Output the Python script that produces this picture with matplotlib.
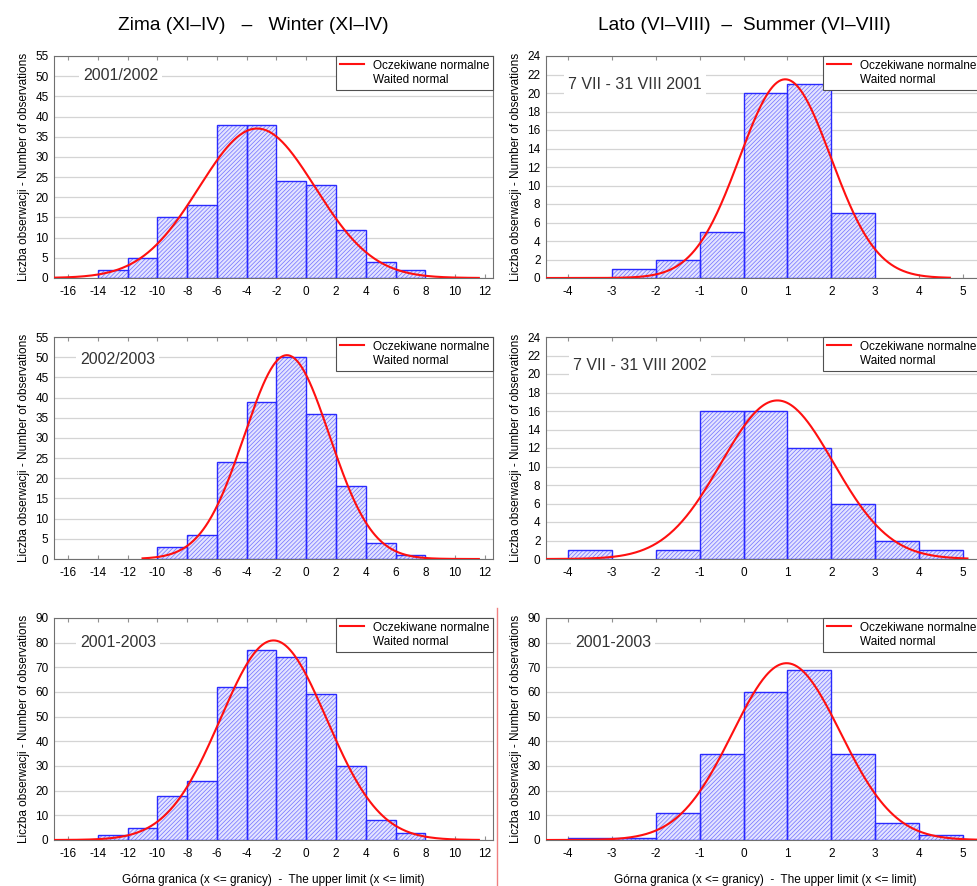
import numpy as np
import matplotlib
matplotlib.use("Agg")
import matplotlib.pyplot as plt
from matplotlib.lines import Line2D
from matplotlib import font_manager

# fonts
names = {f.name for f in font_manager.fontManager.ttflist}
narrow = 'Liberation Sans Narrow' if 'Liberation Sans Narrow' in names else 'Liberation Sans'
plt.rcParams['font.family'] = ['Liberation Sans', 'DejaVu Sans']
plt.rcParams['hatch.linewidth'] = 0.55
plt.rcParams['axes.unicode_minus'] = False

# histogram data - winter (bin width 2) and summer (bin width 1)
winter_left = [-14, -12, -10, -8, -6, -4, -2, 0, 2, 4, 6]
w_0102 = [2, 5, 15, 18, 38, 38, 24, 23, 12, 4, 2]
w_0203 = [0, 0, 3, 6, 24, 39, 50, 36, 18, 4, 1]
w_0103 = [2, 5, 18, 24, 62, 77, 74, 59, 30, 8, 3]

summer_left = [-4, -3, -2, -1, 0, 1, 2, 3, 4]
s_01 = [0, 1, 2, 5, 20, 21, 7, 0, 0]
s_02 = [1, 0, 1, 16, 16, 12, 6, 2, 1]
s_0103 = [1, 1, 11, 35, 60, 69, 35, 7, 2]

# fitted normal (mean, sigma)
w_fit = [(-3.3, 3.9), (-1.3, 2.86), (-2.2, 3.57)]
s_fit = [(0.95, 1.04), (0.77, 1.28), (0.98, 1.23)]
w_curve_range = [(-17, 11.6), (-11, 11.6), (-17, 11.6)]
s_curve_range = [(-4.5, 4.7), (-4.5, 5.1), (-4.5, 5.5)]

w_labels = ['2001/2002', '2002/2003', '2001-2003']
s_labels = ['7 VII - 31 VIII 2001', '7 VII - 31 VIII 2002', '2001-2003']

W, H = 978, 886
fig = plt.figure(figsize=(W / 100, H / 100), dpi=100)

FACE = '#e4e4ff'
HATCH = '#7878ff'
EDGE = '#2a2aff'


def panel(rect_px, left, counts, bw, fit, crange, label, xlim, xticks, ymax, ystep,
          lab_pos, leg_right, xlabel=False):
    l, t, r, b = rect_px
    ax = fig.add_axes([l / W, 1 - b / H, (r - l) / W, (b - t) / H])
    left = np.array(left, float)
    counts = np.array(counts, float)
    m = counts > 0
    ax.bar(left[m], counts[m], width=bw, align='edge', color=FACE,
           edgecolor=HATCH, hatch='////////', linewidth=0, zorder=2)
    ax.bar(left[m], counts[m], width=bw, align='edge', fill=False,
           edgecolor=EDGE, linewidth=1.0, zorder=3)

    mu, sd = fit
    n = counts.sum()
    xs = np.linspace(crange[0], crange[1], 400)
    ys = n * bw / (sd * np.sqrt(2 * np.pi)) * np.exp(-(xs - mu) ** 2 / (2 * sd ** 2))
    ln, = ax.plot(xs, ys, color='#ff1010', lw=1.5, zorder=4)

    ax.set_xlim(*xlim)
    ax.set_ylim(0, ymax)
    ax.set_xticks(xticks)
    ax.set_yticks(np.arange(0, ymax + 1, ystep))
    ax.grid(axis='y', color='#d4d4d4', lw=0.9)
    ax.set_axisbelow(True)
    for s in ax.spines.values():
        s.set_color('#707070')
        s.set_linewidth(0.8)
    ax.tick_params(axis='x', direction='in', length=3, color='#909090', top=True,
                   pad=6, labelsize=8.5)
    ax.tick_params(axis='y', length=0, pad=4, labelsize=8.5)
    for tl in ax.get_xticklabels() + ax.get_yticklabels():
        tl.set_family(narrow)
    ax.set_ylabel('Liczba obserwacji - Number of observations', family=narrow,
                  fontsize=8.5, labelpad=4)
    if xlabel:
        ax.set_xlabel('Górna granica (x <= granicy)  -  The upper limit (x <= limit)',
                      family=narrow, fontsize=8.5, labelpad=10)

    ax.text(lab_pos[0], lab_pos[1], label, transform=ax.transAxes, fontsize=11.5,
            color='#333333', va='center', ha='left', zorder=5,
            bbox=dict(facecolor='white', edgecolor='none', pad=3))

    blank = Line2D([], [], color='none')
    leg = ax.legend([ln, blank], ['Oczekiwane normalne', 'Waited normal'],
                    loc='upper right', bbox_to_anchor=(leg_right, 1),
                    borderaxespad=0, fontsize=8.5,
                    fancybox=False, framealpha=1, edgecolor='#505050',
                    handlelength=2.0, labelspacing=0.25, borderpad=0.3,
                    handletextpad=0.8)
    leg.get_frame().set_linewidth(0.8)
    leg.set_zorder(6)
    return ax


win_ticks = np.arange(-16, 13, 2)
sum_ticks = np.arange(-4, 6, 1)

rows = [(56, 278), (337, 559), (618, 840)]
w_data = [w_0102, w_0203, w_0103]
s_data = [s_01, s_02, s_0103]
w_ymax = [(55, 5), (55, 5), (90, 10)]
s_ymax = [(24, 2), (24, 2), (90, 10)]
w_lab = [(0.066, 0.91), (0.059, 0.90), (0.059, 0.89)]
s_lab = [(0.05, 0.873), (0.0615, 0.873), (0.066, 0.89)]

for i, (t, b) in enumerate(rows):
    panel((54, t, 493, b), winter_left, w_data[i], 2, w_fit[i], w_curve_range[i],
          w_labels[i], (-16.95, 12.55), win_ticks, w_ymax[i][0], w_ymax[i][1],
          w_lab[i], 1.0, xlabel=(i == 2))
    panel((546, t, 985, b), summer_left, s_data[i], 1, s_fit[i], s_curve_range[i],
          s_labels[i], (-4.5, 5.5), sum_ticks, s_ymax[i][0], s_ymax[i][1],
          s_lab[i], (980 - 546) / 439, xlabel=(i == 2))

# column titles
fig.text(253 / W, 1 - 26 / H, 'Zima (XI–IV)   –   Winter (XI–IV)', ha='center',
         va='center', fontsize=13.8)
fig.text(744 / W, 1 - 26 / H, 'Lato (VI–VIII)  –  Summer (VI–VIII)', ha='center',
         va='center', fontsize=13.8)

# thin red separator between the bottom panels
fig.add_artist(Line2D([497 / W, 497 / W], [1 - 608 / H, 0], color='#f08080', lw=1))

fig.savefig('out.png', dpi=100)
